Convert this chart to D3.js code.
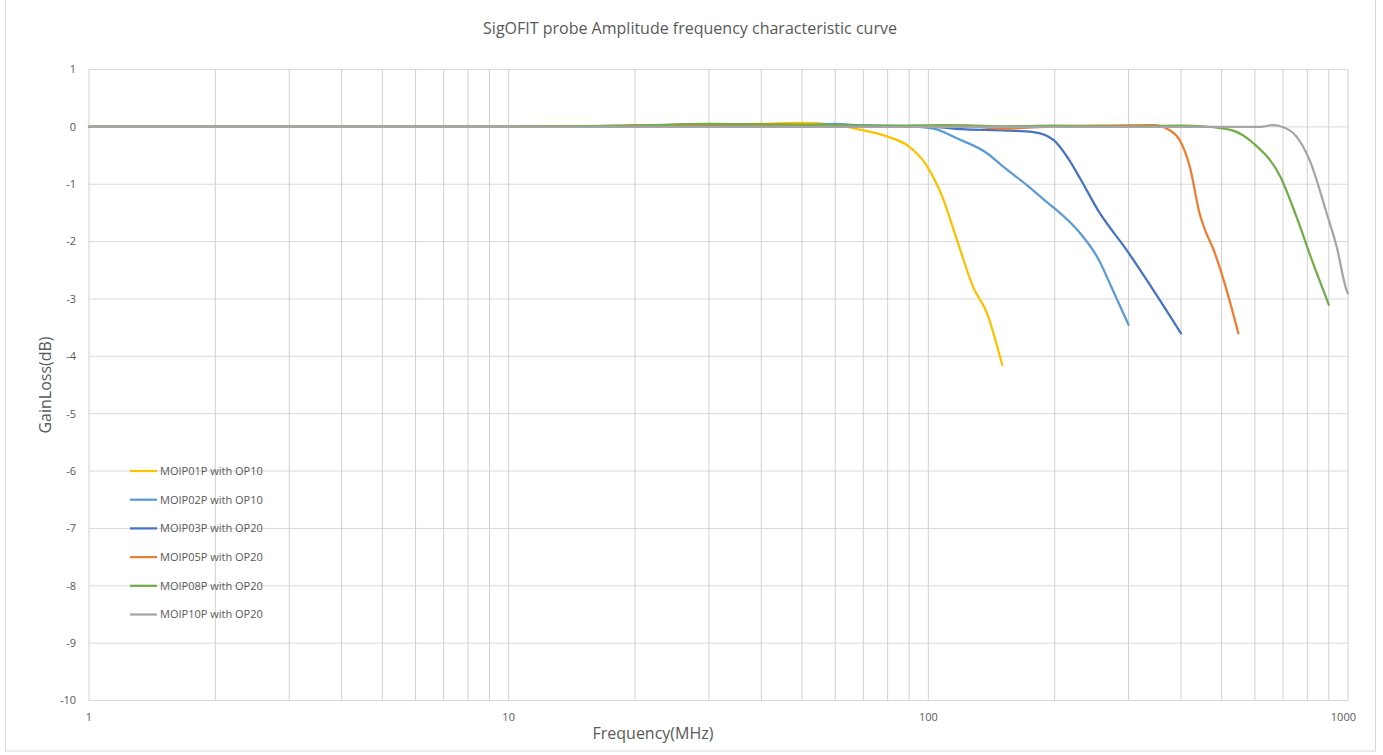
<!DOCTYPE html>
<html>
<head>
<meta charset="utf-8">
<script src="https://cdn.jsdelivr.net/npm/d3@7"></script>
<style>
  body { margin: 0; background: #fff; }
  text { font-family: "Open Sans", "Noto Sans", sans-serif; fill: #595959; }
</style>
</head>
<body>
<div class="chart-container"></div>
<script>
// ---------- Data

var seriesNames = ["MOIP01P with OP10", "MOIP02P with OP10", "MOIP03P with OP20",
                   "MOIP05P with OP20", "MOIP08P with OP20", "MOIP10P with OP20"];
var seriesColors = ["#FFC000", "#5B9BD5", "#4472C4", "#ED7D31", "#70AD47", "#A5A5A5"];

// [frequency MHz, gain loss dB]
var moip01p = [[1, 0], [5, 0], [10, 0], [20, 0.02], [30, 0.04], [40, 0.05], [50, 0.07], [60, 0.04],
  [67, -0.03], [80, -0.17], [89, -0.32], [99, -0.67], [108, -1.22], [117, -1.97],
  [128, -2.8], [138, -3.25], [150, -4.15]];
var moip02p = [[1, 0], [5, 0], [10, 0], [20, 0.01], [30, 0.02], [50, 0.03], [60, 0.05], [70, 0.02],
  [90, 0.01], [103, -0.03], [117, -0.2], [138, -0.46], [150, -0.68], [172, -1.02],
  [193, -1.33], [200, -1.42], [234, -1.92], [254, -2.3], [273, -2.79], [300, -3.45]];
var moip03p = [[1, 0], [5, 0], [10, 0], [20, 0.02], [30, 0.04], [50, 0.03], [70, 0.02], [100, 0.01],
  [120, -0.04], [150, -0.06], [178, -0.09], [199, -0.23], [214, -0.52], [230, -0.9],
  [254, -1.46], [297, -2.15], [344, -2.85], [400, -3.6]];
var moip05p = [[1, 0], [5, 0], [10, 0], [20, 0.02], [30, 0.04], [50, 0.03], [80, 0.01], [120, 0.02],
  [150, -0.03], [200, 0.01], [250, 0.02], [344, 0.03], [376, -0.06], [397, -0.23],
  [420, -0.7], [443, -1.51], [460, -1.86], [477, -2.12], [514, -2.85], [548, -3.6]];
var moip08p = [[1, 0], [5, 0], [10, 0], [20, 0.02], [30, 0.05], [50, 0.04], [80, 0.02], [110, 0.03],
  [150, 0.01], [200, 0.02], [300, 0.01], [400, 0.02], [450, 0.01], [530, -0.06], [596, -0.29],
  [690, -0.87], [754, -1.57], [820, -2.32], [900, -3.1]];
var moip10p = [[1, 0], [5, 0], [10, 0], [50, 0], [100, 0], [300, 0], [620, 0], [660, 0.03],
  [690, 0.01], [754, -0.17], [810, -0.58], [890, -1.51], [940, -2.09], [995, -2.87], [1000, -2.9]];

var seriesData = [moip01p, moip02p, moip03p, moip05p, moip08p, moip10p];

var yTicks = [1, 0, -1, -2, -3, -4, -5, -6, -7, -8, -9, -10];
var xTickLabels = [1, 10, 100, 1000];
var xGridValues = [1, 2, 3, 4, 5, 6, 7, 8, 9, 10, 20, 30, 40, 50, 60, 70, 80, 90,
                   100, 200, 300, 400, 500, 600, 700, 800, 900, 1000];

// ---------- Layout

var svgwidth = 1383;
var svgheight = 755;
var plotLeft = 89, plotRight = 1348, plotTop = 69.5, plotBottom = 700.5;

var svg = d3.select("div.chart-container")
  .append("svg")
  .attr("width", svgwidth)
  .attr("height", svgheight);

// outer chart frame
svg.append("rect")
  .attr("x", 5.5).attr("y", -1)
  .attr("width", 1370).attr("height", 752)
  .attr("fill", "none").attr("stroke", "#d9d9d9");

var x = d3.scaleLog().domain([1, 1000]).range([plotLeft, plotRight]);
var y = d3.scaleLinear().domain([-10, 1]).range([plotBottom, plotTop]);

// ---------- Grid

var grid = svg.append("g").classed("grid", true);

grid.selectAll("line.hgrid")
  .data(yTicks)
  .enter().append("line")
  .classed("hgrid", true)
  .attr("x1", plotLeft).attr("x2", plotRight)
  .attr("y1", d => y(d)).attr("y2", d => y(d))
  .attr("stroke", "#d9d9d9").attr("stroke-width", 1);

grid.selectAll("line.vgrid")
  .data(xGridValues)
  .enter().append("line")
  .classed("vgrid", true)
  .attr("x1", d => x(d)).attr("x2", d => x(d))
  .attr("y1", plotTop).attr("y2", plotBottom)
  .attr("stroke", "#d0d0d0").attr("stroke-width", 1);

// ---------- Axis labels

svg.append("g").selectAll("text")
  .data(yTicks)
  .enter().append("text")
  .attr("x", 76)
  .attr("y", d => y(d))
  .attr("dy", "0.35em")
  .attr("text-anchor", "end")
  .attr("font-size", 11)
  .text(d => d);

svg.append("g").selectAll("text")
  .data(xTickLabels)
  .enter().append("text")
  .attr("x", d => x(d))
  .attr("y", 721)
  .attr("text-anchor", d => d === 1000 ? "end" : "middle")
  .attr("dx", d => d === 1000 ? 8 : 0)
  .attr("font-size", 11)
  .text(d => d);

svg.append("text")
  .attr("x", 690).attr("y", 34)
  .attr("text-anchor", "middle")
  .attr("font-size", 16)
  .text("SigOFIT probe Amplitude frequency characteristic curve");

svg.append("text")
  .attr("transform", "translate(51, 385) rotate(-90)")
  .attr("text-anchor", "middle")
  .attr("font-size", 16)
  .text("GainLoss(dB)");

svg.append("text")
  .attr("x", 653).attr("y", 739)
  .attr("text-anchor", "middle")
  .attr("font-size", 16)
  .text("Frequency(MHz)");

// ---------- Lines

var line = d3.line()
  .x(d => x(d[0]))
  .y(d => y(d[1]))
  .curve(d3.curveMonotoneX);

svg.append("g").classed("series", true)
  .selectAll("path")
  .data(seriesData)
  .enter().append("path")
  .attr("d", d => line(d))
  .attr("fill", "none")
  .attr("stroke", (d, i) => seriesColors[i])
  .attr("stroke-width", 2.25)
  .attr("stroke-linejoin", "round")
  .attr("stroke-linecap", "round");

// ---------- Legend

var legend = svg.append("g").classed("legend", true)
  .selectAll("g")
  .data(seriesNames)
  .enter().append("g")
  .attr("transform", (d, i) => `translate(130, ${471 + i * 28.7})`);

legend.append("line")
  .attr("x1", 0).attr("x2", 27)
  .attr("y1", 0).attr("y2", 0)
  .attr("stroke", (d, i) => seriesColors[i])
  .attr("stroke-width", 2.25);

legend.append("text")
  .attr("x", 30)
  .attr("dy", "0.35em")
  .attr("font-size", 11)
  .text(d => d);
</script>
</body>
</html>
